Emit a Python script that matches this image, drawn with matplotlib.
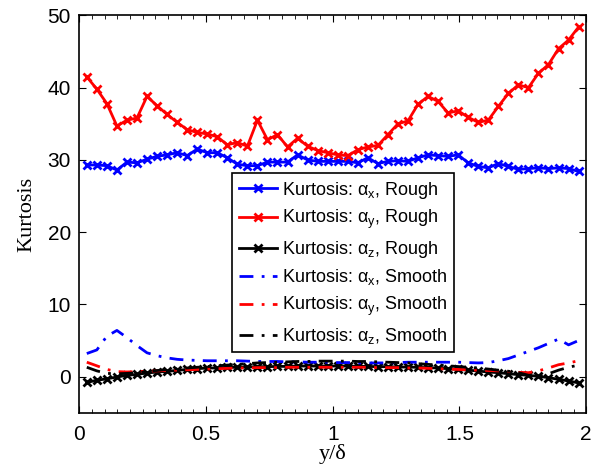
import numpy as np
import matplotlib
matplotlib.use('Agg')
import matplotlib.pyplot as plt
from matplotlib.ticker import MultipleLocator

# wall-normal positions of the profiles
y_delta = np.linspace(0.03, 1.97, 50)

kurt_x_rough = [29.3, 29.3, 29.2, 28.6, 29.7, 29.6, 30.1, 30.5, 30.7, 31.0,
                30.6, 31.5, 31.0, 31.0, 30.3, 29.4, 29.2, 29.2, 29.7, 29.7,
                29.7, 30.7, 30.0, 29.8, 29.8, 29.8, 29.8, 29.6, 30.3, 29.5,
                29.8, 29.9, 29.8, 30.3, 30.7, 30.6, 30.5, 30.7, 29.6, 29.1,
                28.9, 29.5, 29.1, 28.7, 28.8, 28.9, 28.8, 28.9, 28.8, 28.4]
kurt_y_rough = [41.5, 39.8, 37.8, 34.7, 35.5, 35.8, 38.8, 37.5, 36.3, 35.2,
                34.2, 33.8, 33.6, 33.2, 32.1, 32.4, 31.9, 35.5, 32.8, 33.5,
                31.8, 33.0, 31.9, 31.3, 31.0, 30.7, 30.6, 31.4, 31.8, 32.0,
                33.5, 35.0, 35.4, 37.7, 38.8, 38.1, 36.5, 36.8, 35.9, 35.2,
                35.5, 37.4, 39.2, 40.4, 40.0, 42.0, 43.2, 45.4, 46.6, 48.4]
kurt_z_rough = [-0.8, -0.5, -0.3, -0.05, 0.18, 0.32, 0.5, 0.64, 0.73, 0.87,
                1.0, 1.1, 1.2, 1.2, 1.29, 1.29, 1.33, 1.38, 1.38, 1.42,
                1.42, 1.47, 1.47, 1.47, 1.47, 1.47, 1.47, 1.42, 1.42, 1.38,
                1.38, 1.33, 1.33, 1.29, 1.24, 1.2, 1.1, 1.0, 0.9, 0.78,
                0.64, 0.55, 0.41, 0.28, 0.18, 0.05, -0.14, -0.37, -0.6, -0.87]
kurt_x_smooth = [3.2, 3.7, 5.6, 6.4, 5.4, 4.3, 3.3, 2.9, 2.6, 2.4,
                 2.3, 2.25, 2.2, 2.2, 2.2, 2.2, 2.15, 2.1, 2.1, 2.1,
                 2.05, 2.05, 2.0, 2.0, 2.0, 1.95, 1.95, 1.9, 1.9, 1.9,
                 1.9, 1.95, 2.0, 2.0, 2.0, 2.0, 2.0, 2.0, 1.95, 1.9,
                 1.95, 2.2, 2.5, 3.0, 3.5, 4.0, 4.6, 5.2, 4.4, 5.0]
kurt_y_smooth = [2.0, 1.5, 1.0, 0.7, 0.65, 0.7, 0.75, 0.8, 0.85, 0.9,
                 0.95, 1.0, 1.05, 1.1, 1.15, 1.2, 1.2, 1.25, 1.25, 1.25,
                 1.3, 1.3, 1.3, 1.3, 1.3, 1.3, 1.3, 1.3, 1.3, 1.25,
                 1.25, 1.25, 1.2, 1.2, 1.15, 1.1, 1.05, 1.0, 0.95, 0.9,
                 0.85, 0.8, 0.7, 0.6, 0.55, 0.8, 1.2, 1.65, 1.9, 2.2]
kurt_z_smooth = [1.3, 0.8, 0.45, 0.4, 0.45, 0.55, 0.7, 0.85, 1.0, 1.1,
                 1.2, 1.3, 1.4, 1.5, 1.6, 1.7, 1.8, 1.9, 1.95, 2.0,
                 2.05, 2.1, 2.1, 2.15, 2.15, 2.15, 2.15, 2.1, 2.1, 2.05,
                 2.0, 1.95, 1.9, 1.8, 1.7, 1.6, 1.5, 1.4, 1.3, 1.2,
                 1.05, 0.9, 0.75, 0.55, 0.2, 0.0, 0.4, 0.9, 1.3, 1.6]

plt.rcParams.update({
    'font.family': 'Liberation Sans',
    'mathtext.fontset': 'custom',
    'mathtext.rm': 'Liberation Sans',
    'mathtext.it': 'Liberation Sans',
})

fig = plt.figure(figsize=(6, 4.68), dpi=100)
ax = fig.add_axes([0.132, 0.118, 0.845, 0.849])

rough = dict(lw=2, marker='x', ms=6, mew=2)
smooth = dict(lw=2, ls=(0, (5, 3, 1, 3)))

ax.plot(y_delta, kurt_x_rough, color='b', label='Kurtosis: α$_\\mathrm{x}$, Rough', **rough)
ax.plot(y_delta, kurt_y_rough, color='r', label='Kurtosis: α$_\\mathrm{y}$, Rough', **rough)
ax.plot(y_delta, kurt_z_rough, color='k', label='Kurtosis: α$_\\mathrm{z}$, Rough', **rough)
ax.plot(y_delta, kurt_x_smooth, color='b', label='Kurtosis: α$_\\mathrm{x}$, Smooth', **smooth)
ax.plot(y_delta, kurt_y_smooth, color='r', label='Kurtosis: α$_\\mathrm{y}$, Smooth', **smooth)
ax.plot(y_delta, kurt_z_smooth, color='k', label='Kurtosis: α$_\\mathrm{z}$, Smooth', **smooth)

ax.set_xlim(0, 2)
ax.set_ylim(-5, 50)
ax.set_xticks([0, 0.5, 1, 1.5, 2])
ax.set_xticklabels(['0', '0.5', '1', '1.5', '2'])
ax.xaxis.set_minor_locator(MultipleLocator(0.05))
ax.set_yticks([0, 10, 20, 30, 40, 50])
ax.tick_params(which='both', direction='in', top=True, right=True, labelsize=15)
ax.tick_params(axis='x', pad=9)
ax.tick_params(axis='y', pad=6)
ax.tick_params(which='major', length=5)
ax.tick_params(which='minor', length=3)
for s in ax.spines.values():
    s.set_linewidth(1.2)

ax.set_xlabel('y/δ', family='Liberation Serif', fontsize=16, labelpad=0)
ax.set_ylabel('Kurtosis', family='Liberation Serif', fontsize=16, labelpad=8)

leg = ax.legend(loc='upper left', bbox_to_anchor=(0.302, 0.603), borderaxespad=0,
                fontsize=13, numpoints=1, handlelength=2.1, handletextpad=0.3,
                labelspacing=0.42, fancybox=False, framealpha=1, edgecolor='k',
                borderpad=0.35)
leg.get_frame().set_linewidth(1.2)

fig.savefig('out.png', dpi=100)
